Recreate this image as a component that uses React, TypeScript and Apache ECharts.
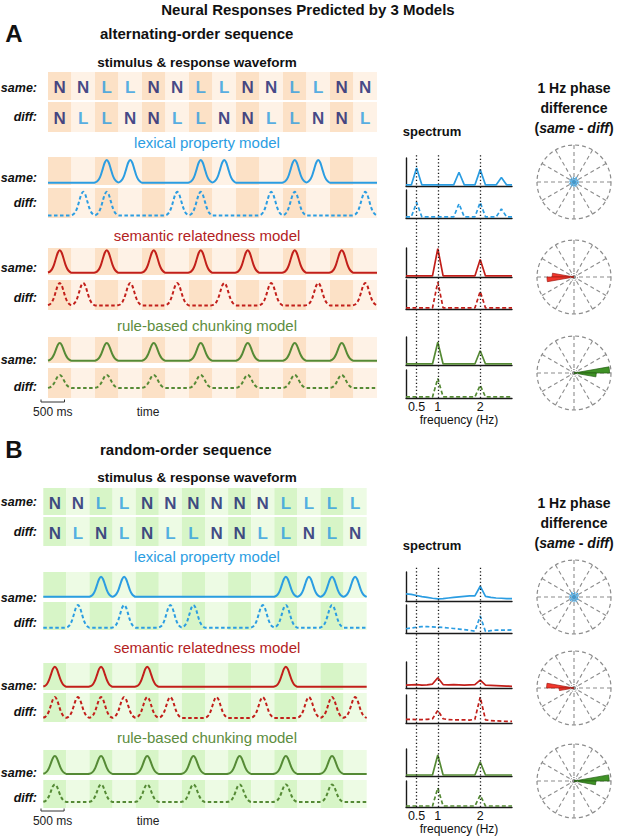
import React, { useEffect, useRef } from "react";
import * as echarts from "echarts";

const W = 617;
const H = 836;
const FONT = "'Liberation Sans', Arial, Helvetica, sans-serif";

// ---------------- data ----------------
const TITLE = "Neural Responses Predicted by 3 Models";
const PANEL_LETTERS = ["A", "B"];
const PANEL_TITLES = ["alternating-order sequence", "random-order sequence"];
const WAVE_TITLE = "stimulus & response waveform";
const MODEL_TITLES = ["lexical property model", "semantic relatedness model", "rule-based chunking model"];
const ROW_NAMES = ["same:", "diff:"];

const A_WORDS_SAME = ["N", "N", "L", "L", "N", "N", "L", "L", "N", "N", "L", "L", "N", "N"];
const A_WORDS_DIFF = ["N", "L", "L", "N", "N", "L", "L", "N", "N", "L", "L", "N", "N", "L"];
const B_WORDS_SAME = ["N", "N", "L", "L", "N", "N", "N", "N", "N", "N", "L", "L", "L", "L"];
const B_WORDS_DIFF = ["N", "L", "N", "L", "N", "L", "L", "N", "N", "L", "L", "N", "L", "N"];

// response peak amplitude for each 500 ms word (0 = no response)
const A_LEX_SAME = [0, 0, 0.97, 0.97, 0, 0, 0.97, 0.97, 0, 0, 0.97, 0.97, 0, 0];
const A_LEX_DIFF = [0, 0.95, 0.95, 0, 0, 0.95, 0.95, 0, 0, 0.95, 0.95, 0, 0, 0.95];
const A_SEM_SAME = [1, 0, 1, 0, 1, 0, 1, 0, 1, 0, 1, 0, 1, 0];
const A_SEM_DIFF = [0.97, 0.97, 0, 0.97, 0, 0.97, 0, 0.97, 0, 0.97, 0, 0.97, 0, 0.97];
const A_CHK_SAME = [0.82, 0, 0.82, 0, 0.82, 0, 0.82, 0, 0.82, 0, 0.82, 0, 0.82, 0];
const A_CHK_DIFF = [0.72, 0, 0.72, 0, 0.72, 0, 0.72, 0, 0.72, 0, 0.72, 0, 0.72, 0];
const B_LEX_SAME = [0, 0, 0.89, 0.89, 0, 0, 0, 0, 0, 0, 0.89, 0.89, 0.89, 0.89];
const B_LEX_DIFF = [0, 0.97, 0, 0.97, 0, 0.97, 0.97, 0, 0, 0.97, 0.97, 0, 0.97, 0];
const B_SEM_SAME = [0.93, 0, 0.93, 0, 0.93, 0, 0, 0, 0, 0, 0.93, 0, 0, 0];
const B_SEM_DIFF = [0.92, 0.92, 0.92, 0.92, 0.92, 0.92, 0, 0.92, 0, 0.92, 0, 0.92, 0.92, 0.92];
const B_CHK_SAME = [0.82, 0, 0.82, 0, 0.82, 0, 0.82, 0, 0.82, 0, 0.82, 0, 0.82, 0];
const B_CHK_DIFF = [0.88, 0, 0.88, 0, 0.88, 0, 0.88, 0, 0.88, 0, 0.88, 0, 0.88, 0];

// shape of one response bump, 12 samples across a word
const PEAK_SHAPE = [0.01, 0.05, 0.15, 0.34, 0.62, 0.89, 1, 0.89, 0.62, 0.34, 0.15, 0.05];

// spectrum
const FREQ_HZ = [0.25, 0.375, 0.5, 0.625, 0.75, 0.875, 1, 1.125, 1.25, 1.375, 1.5, 1.625, 1.75, 1.875, 2, 2.125, 2.25, 2.375, 2.5, 2.625, 2.75];
const FREQ_TICKS = [0.5, 1, 2];
const A_SPEC_LEX_SAME = [0, 0, 0.64, 0, 0, 0, 0, 0, 0, 0, 0.48, 0, 0, 0, 0.58, 0, 0, 0, 0.28, 0, 0];
const A_SPEC_LEX_DIFF = [0, 0, 0.55, 0, 0, 0, 0, 0, 0, 0, 0.5, 0, 0, 0, 0.55, 0, 0, 0, 0.3, 0, 0];
const A_SPEC_SEM_SAME = [0, 0, 0, 0, 0, 0, 1, 0, 0, 0, 0, 0, 0, 0, 0.6, 0, 0, 0, 0, 0, 0];
const A_SPEC_SEM_DIFF = [0, 0, 0, 0, 0, 0, 0.95, 0, 0, 0, 0, 0, 0, 0, 0.6, 0, 0, 0, 0, 0, 0];
const A_SPEC_CHK_SAME = [0, 0, 0, 0, 0, 0, 0.82, 0, 0, 0, 0, 0, 0, 0, 0.5, 0, 0, 0, 0, 0, 0];
const A_SPEC_CHK_DIFF = [0, 0, 0, 0, 0, 0, 0.7, 0, 0, 0, 0, 0, 0, 0, 0.44, 0, 0, 0, 0, 0, 0];
const B_SPEC_LEX_SAME = [0.22, 0.2, 0.16, 0.12, 0.09, 0.06, 0.04, 0.05, 0.07, 0.09, 0.11, 0.13, 0.15, 0.15, 0.5, 0.13, 0.09, 0.07, 0.06, 0.05, 0.05];
const B_SPEC_LEX_DIFF = [0.12, 0.15, 0.18, 0.2, 0.2, 0.19, 0.18, 0.17, 0.15, 0.13, 0.11, 0.09, 0.06, 0.03, 0.6, 0.02, 0.05, 0.07, 0.07, 0.07, 0.08];
const B_SPEC_SEM_SAME = [0.08, 0.09, 0.1, 0.08, 0.09, 0.12, 0.38, 0.1, 0.09, 0.1, 0.09, 0.08, 0.09, 0.1, 0.28, 0.08, 0.07, 0.06, 0.05, 0.04, 0.03];
const B_SPEC_SEM_DIFF = [0.1, 0.1, 0.09, 0.09, 0.1, 0.12, 0.44, 0.12, 0.09, 0.08, 0.08, 0.08, 0.07, 0.1, 0.94, 0.08, 0.05, 0.04, 0.03, 0.02, 0.02];
const B_SPEC_CHK_SAME = [0, 0, 0, 0, 0, 0, 0.79, 0, 0, 0, 0, 0, 0, 0, 0.51, 0, 0, 0, 0, 0, 0];
const B_SPEC_CHK_DIFF = [0, 0, 0, 0, 0, 0, 0.74, 0, 0, 0, 0, 0, 0, 0, 0.44, 0, 0, 0, 0, 0, 0];

// 1 Hz phase difference rose (10-degree bins, counter-clockwise from 0 deg)
const PHASE_BINS = ["0", "10", "20", "30", "40", "50", "60", "70", "80", "90", "100", "110", "120", "130", "140", "150", "160", "170", "180", "190", "200", "210", "220", "230", "240", "250", "260", "270", "280", "290", "300", "310", "320", "330", "340", "350"];
const A_PHASE_LEX = [0.13, 0.11, 0.14, 0.12, 0.1, 0.13, 0.15, 0.12, 0.11, 0.14, 0.12, 0.1, 0.13, 0.12, 0.14, 0.11, 0.13, 0.12, 0.1, 0.14, 0.12, 0.13, 0.11, 0.15, 0.12, 0.1, 0.13, 0.12, 0.14, 0.11, 0.12, 0.13, 0.1, 0.14, 0.12, 0.13];
const A_PHASE_SEM = [0, 0, 0, 0, 0, 0, 0, 0, 0, 0, 0, 0, 0, 0, 0, 0, 0, 0.59, 0.73, 0, 0, 0, 0, 0, 0, 0, 0, 0, 0, 0, 0, 0, 0, 0, 0, 0];
const A_PHASE_CHK = [0.96, 0, 0, 0, 0, 0, 0, 0, 0, 0, 0, 0, 0, 0, 0, 0, 0, 0, 0, 0, 0, 0, 0, 0, 0, 0, 0, 0, 0, 0, 0, 0, 0, 0, 0, 0.6];
const B_PHASE_LEX = [0.12, 0.14, 0.11, 0.13, 0.15, 0.12, 0.1, 0.13, 0.14, 0.11, 0.12, 0.15, 0.13, 0.1, 0.12, 0.14, 0.11, 0.13, 0.12, 0.14, 0.1, 0.13, 0.15, 0.12, 0.11, 0.14, 0.12, 0.13, 0.1, 0.15, 0.12, 0.11, 0.14, 0.13, 0.12, 0.1];
const B_PHASE_SEM = [0, 0, 0, 0, 0, 0, 0, 0, 0, 0, 0, 0, 0, 0, 0, 0, 0, 0.74, 0.4, 0, 0, 0, 0, 0, 0, 0, 0, 0, 0, 0, 0, 0, 0, 0, 0, 0];
const B_PHASE_CHK = [0.95, 0, 0, 0, 0, 0, 0, 0, 0, 0, 0, 0, 0, 0, 0, 0, 0, 0, 0, 0, 0, 0, 0, 0, 0, 0, 0, 0, 0, 0, 0, 0, 0, 0, 0, 0.59];

// ---------------- styles / layout ----------------
const NAVY = "#141a6e";
const LBLUE = "#2a9be0";
const C_LEX = "#2b9de2";
const C_SEM = "#c21f1a";
const C_CHK = "#558a35";
const T_LEX = "#2b9de2";
const T_SEM = "#b3221e";
const T_CHK = "#5d8d40";
const SHADE_A = ["#fce1c6", "#fef2e6"];
const SHADE_B = ["#d7f5c7", "#edfbe4"];
const GRAY = "#8c8c8c";

type Row = [number, number, number]; // top, height, y-min

const PANELS = [
  {
    left: 48, width: 329, shade: SHADE_A, headY: 33, waveTitleY: 62,
    words: [A_WORDS_SAME, A_WORDS_DIFF],
    letterRows: [[72, 28], [102, 30]],
    letterLabelY: [88, 117],
    modelTitleY: [142, 235, 325],
    rows: [
      [[157, 28, -0.1], [188, 30, -0.1]],
      [[248, 27, -0.1], [280, 30, -0.2]],
      [[337, 26, -0.1], [368, 30, -0.55]],
    ] as Row[][],
    rowLabelY: [[178, 203], [268, 298], [360, 387]],
    waves: [[A_LEX_SAME, A_LEX_DIFF], [A_SEM_SAME, A_SEM_DIFF], [A_CHK_SAME, A_CHK_DIFF]],
    spec: [[[158, 28], [190, 28]], [[248, 29], [280, 29]], [[337, 28], [370, 28]]],
    specData: [[A_SPEC_LEX_SAME, A_SPEC_LEX_DIFF], [A_SPEC_SEM_SAME, A_SPEC_SEM_DIFF], [A_SPEC_CHK_SAME, A_SPEC_CHK_DIFF]],
    dotted: [153, 245],
    specTitleY: 131,
    phaseHeadY: [88, 108, 128],
    polarY: [182, 277, 373],
    phase: [A_PHASE_LEX, A_PHASE_SEM, A_PHASE_CHK],
    barY: 402, barX: 41,
  },
  {
    left: 43.3, width: 323.4, shade: SHADE_B, headY: 449, waveTitleY: 477,
    words: [B_WORDS_SAME, B_WORDS_DIFF],
    letterRows: [[488, 27], [517, 29]],
    letterLabelY: [502, 532],
    modelTitleY: [556, 647, 737],
    rows: [
      [[572, 26, -0.05], [602, 28, -0.1]],
      [[663, 27, -0.15], [693, 29, -0.18]],
      [[750, 25, -0.05], [780, 28, -0.3]],
    ] as Row[][],
    rowLabelY: [[598, 623], [686, 712], [773, 798]],
    waves: [[B_LEX_SAME, B_LEX_DIFF], [B_SEM_SAME, B_SEM_DIFF], [B_CHK_SAME, B_CHK_DIFF]],
    spec: [[[572, 29], [605, 28]], [[662, 26], [695, 28]], [[749, 27], [781, 26]]],
    specData: [[B_SPEC_LEX_SAME, B_SPEC_LEX_DIFF], [B_SPEC_SEM_SAME, B_SPEC_SEM_DIFF], [B_SPEC_CHK_SAME, B_SPEC_CHK_DIFF]],
    dotted: [566, 241],
    specTitleY: 545,
    phaseHeadY: [503, 523, 543],
    polarY: [597, 688, 781],
    phase: [B_PHASE_LEX, B_PHASE_SEM, B_PHASE_CHK],
    barY: 811, barX: 41,
  },
];

const MODEL_LINE = [C_LEX, C_SEM, C_CHK];
const MODEL_TEXT = [T_LEX, T_SEM, T_CHK];
const ROSE_FILL = [C_LEX, "#f2362c", "#3f9226"];
const ROSE_EDGE = [C_LEX, "#9e1a12", "#235c12"];

function buildWave(amps: number[]) {
  const out: number[][] = [];
  amps.forEach((a, i) => {
    PEAK_SHAPE.forEach((s, k) => {
      out.push([0.5 * (i + k / 12), a * s]);
    });
  });
  out.push([7, 0]);
  return out;
}

function buildOption() {
  const grids: any[] = [];
  const xAxes: any[] = [];
  const yAxes: any[] = [];
  const series: any[] = [];
  const polars: any[] = [];
  const angleAxes: any[] = [];
  const radiusAxes: any[] = [];
  const els: any[] = [];

  const text = (x: number, y: number, t: string, o: any = {}) =>
    els.push({
      type: "text",
      x,
      y,
      silent: true,
      style: {
        text: t,
        fontFamily: FONT,
        fontSize: o.size || 13,
        fontWeight: o.weight || "normal",
        fontStyle: o.style || "normal",
        fill: o.color || "#111",
        align: o.align || "center",
        verticalAlign: "middle",
        rich: o.rich,
      },
    });

  const addGrid = (left: number, top: number, width: number, height: number) => {
    grids.push({ left, top, width, height, containLabel: false, outerBoundsMode: "none" });
    return grids.length - 1;
  };

  const hiddenX = (gi: number, shade: string[] | null) => ({
    type: "value",
    gridIndex: gi,
    min: 0,
    max: 7,
    interval: 0.5,
    axisLine: { show: false },
    axisTick: { show: false },
    axisLabel: { show: false },
    splitLine: { show: false },
    splitArea: shade ? { show: true, areaStyle: { color: shade } } : { show: false },
  });

  text(308, 9, TITLE, { size: 15, weight: "bold" });

  PANELS.forEach((P, pi) => {
    text(14, P.headY, PANEL_LETTERS[pi], { size: 24, weight: "bold" });
    text(100, P.headY, PANEL_TITLES[pi], { size: 15, weight: "bold", align: "left" });
    text(197, P.waveTitleY, WAVE_TITLE, { size: 13.5, weight: "bold" });

    // letter rows
    P.letterRows.forEach(([top, h], ri) => {
      const gi = addGrid(P.left, top, P.width, h);
      xAxes.push(hiddenX(gi, P.shade));
      yAxes.push({ type: "value", gridIndex: gi, min: 0, max: 1, show: false });
      series.push({
        type: "scatter",
        xAxisIndex: gi,
        yAxisIndex: gi,
        symbolSize: 1,
        silent: true,
        itemStyle: { color: "rgba(0,0,0,0)" },
        data: P.words[ri].map((w, i) => ({
          value: [0.5 * i + 0.25, 0.44, w],
          label: { color: w === "N" ? NAVY : LBLUE },
        })),
        label: {
          show: true,
          position: "inside",
          formatter: (p: any) => p.value[2],
          fontSize: 17,
          fontWeight: "bold",
          fontFamily: FONT,
        },
      });
      text(37, P.letterLabelY[ri], ROW_NAMES[ri], { size: 12.5, weight: "bold", style: "italic", align: "right" });
    });

    // model rows
    P.rows.forEach((pair, mi) => {
      text(207, P.modelTitleY[mi], MODEL_TITLES[mi], { size: 15, color: MODEL_TEXT[mi] });
      pair.forEach(([top, h, ymin], ri) => {
        const gi = addGrid(P.left, top, P.width, h);
        xAxes.push(hiddenX(gi, P.shade));
        yAxes.push({ type: "value", gridIndex: gi, min: ymin, max: 1.1, show: false });
        series.push({
          type: "line",
          xAxisIndex: gi,
          yAxisIndex: gi,
          symbol: "none",
          smooth: 0.3,
          silent: true,
          data: buildWave(P.waves[mi][ri]),
          lineStyle: { color: MODEL_LINE[mi], width: 2, type: ri === 0 ? "solid" : [3.5, 2.5] },
        });
        text(37, P.rowLabelY[mi][ri], ROW_NAMES[ri], { size: 12.5, weight: "bold", style: "italic", align: "right" });
      });
    });

    // scale bar
    els.push({
      type: "polyline",
      silent: true,
      shape: { points: [[P.barX, P.barY - 2.5], [P.barX, P.barY], [P.barX + P.width / 14, P.barY], [P.barX + P.width / 14, P.barY - 2.5]] },
      style: { stroke: "#333", lineWidth: 1, fill: "none" },
    });
    text(P.barX + P.width / 28, P.barY + 10, "500 ms", { size: 12, color: "#222" });
    text(148, P.barY + 10, "time", { size: 12, color: "#222" });

    // spectrum
    text(432, P.specTitleY, "spectrum", { size: 13, weight: "bold" });
    const SL = 406;
    const SW = 106;
    {
      const gi = addGrid(SL, P.dotted[0], SW, P.dotted[1]);
      xAxes.push({ type: "value", gridIndex: gi, min: 0.25, max: 2.75, show: false });
      yAxes.push({ type: "value", gridIndex: gi, min: 0, max: 1, show: false });
      series.push({
        type: "line",
        xAxisIndex: gi,
        yAxisIndex: gi,
        symbol: "none",
        silent: true,
        z: 5,
        data: [[0.25, 0]],
        lineStyle: { opacity: 0 },
        markLine: {
          silent: true,
          symbol: ["none", "none"],
          label: { show: false },
          lineStyle: { color: "#1a1a1a", width: 1.3, type: [1.3, 2.2] },
          data: FREQ_TICKS.map((f) => ({ xAxis: f })),
        },
      });
    }
    P.spec.forEach((pair, mi) => {
      pair.forEach(([top, h], ri) => {
        const last = mi === 2 && ri === 1;
        const gi = addGrid(SL, top, SW, h);
        xAxes.push({
          type: "value",
          gridIndex: gi,
          min: 0.25,
          max: 2.75,
          axisLine: { show: true, onZero: false, lineStyle: { color: "#1a1a1a", width: 1.4 } },
          axisTick: { show: false },
          axisLabel: last
            ? { show: true, customValues: FREQ_TICKS, margin: 2, fontSize: 12.5, color: "#111", fontFamily: FONT }
            : { show: false },
          splitLine: { show: false },
          name: last ? "frequency (Hz)" : "",
          nameLocation: "middle",
          nameGap: 10,
          nameTextStyle: { fontSize: 12, color: "#111", fontFamily: FONT },
        });
        yAxes.push({
          type: "value",
          gridIndex: gi,
          min: -0.04,
          max: 1.02,
          axisLine: { show: true, onZero: false, lineStyle: { color: "#1a1a1a", width: 1.4 } },
          axisTick: { show: false },
          axisLabel: { show: false },
          splitLine: { show: false },
        });
        series.push({
          type: "line",
          xAxisIndex: gi,
          yAxisIndex: gi,
          symbol: "none",
          silent: true,
          data: FREQ_HZ.map((f, i) => [f, P.specData[mi][ri][i]]),
          lineStyle: { color: MODEL_LINE[mi], width: 1.7, type: ri === 0 ? "solid" : [4, 2.5] },
        });
      });
    });

    // phase roses
    const PX = 574;
    text(PX, P.phaseHeadY[0], "1 Hz phase", { size: 14, weight: "bold" });
    text(PX, P.phaseHeadY[1], "difference", { size: 14, weight: "bold" });
    const rs = { fontFamily: FONT, fontSize: 14, fontWeight: "bold", fill: "#111", color: "#111" };
    text(PX, P.phaseHeadY[2], "{n|(}{i|same}{n| - }{i|diff}{n|)}", {
      size: 14,
      weight: "bold",
      rich: { n: { ...rs }, i: { ...rs, fontStyle: "italic" } },
    });
    P.polarY.forEach((cy, mi) => {
      const pidx = polars.length;
      polars.push({ center: [PX, cy], radius: 37 });
      angleAxes.push({
        polarIndex: pidx,
        type: "category",
        data: PHASE_BINS,
        startAngle: 0,
        clockwise: false,
        boundaryGap: true,
        axisLine: { show: true, lineStyle: { color: GRAY, width: 1.2, type: [4, 3] } },
        axisTick: { show: false },
        axisLabel: { show: false, interval: 2 },
        splitLine: { show: true, interval: 2, lineStyle: { color: GRAY, width: 1.1, type: [4, 3] } },
      });
      radiusAxes.push({
        polarIndex: pidx,
        type: "value",
        min: 0,
        max: 1,
        axisLine: { show: false },
        axisTick: { show: false },
        axisLabel: { show: false },
        splitLine: { show: false },
      });
      series.push({
        type: "bar",
        coordinateSystem: "polar",
        polarIndex: pidx,
        silent: true,
        barCategoryGap: "0%",
        data: P.phase[mi],
        itemStyle: { color: ROSE_FILL[mi], borderColor: ROSE_EDGE[mi], borderWidth: mi === 0 ? 0 : 0.7 },
        z: 3,
      });
      const pin = polars.length;
      polars.push({ center: [PX, cy], radius: 3.5 });
      angleAxes.push({
        polarIndex: pin,
        type: "value",
        min: 0,
        max: 360,
        z: 10,
        axisLine: { show: true, lineStyle: { color: GRAY, width: 1, type: [1.5, 1.5] } },
        axisTick: { show: false },
        axisLabel: { show: false },
        splitLine: { show: false },
      });
      radiusAxes.push({ polarIndex: pin, type: "value", min: 0, max: 1, show: false });
    });
  });

  return {
    animation: false,
    backgroundColor: "#ffffff",
    grid: grids,
    xAxis: xAxes,
    yAxis: yAxes,
    polar: polars,
    angleAxis: angleAxes,
    radiusAxis: radiusAxes,
    series,
    graphic: { elements: els },
  };
}

export default function App() {
  const ref = useRef<HTMLDivElement>(null);
  useEffect(() => {
    const chart = echarts.init(ref.current as HTMLDivElement, undefined, { renderer: "svg", width: W, height: H });
    chart.setOption(buildOption() as any);
    return () => chart.dispose();
  }, []);
  return <div ref={ref} style={{ position: "absolute", left: 0, top: 0, width: W, height: H }} />;
}
